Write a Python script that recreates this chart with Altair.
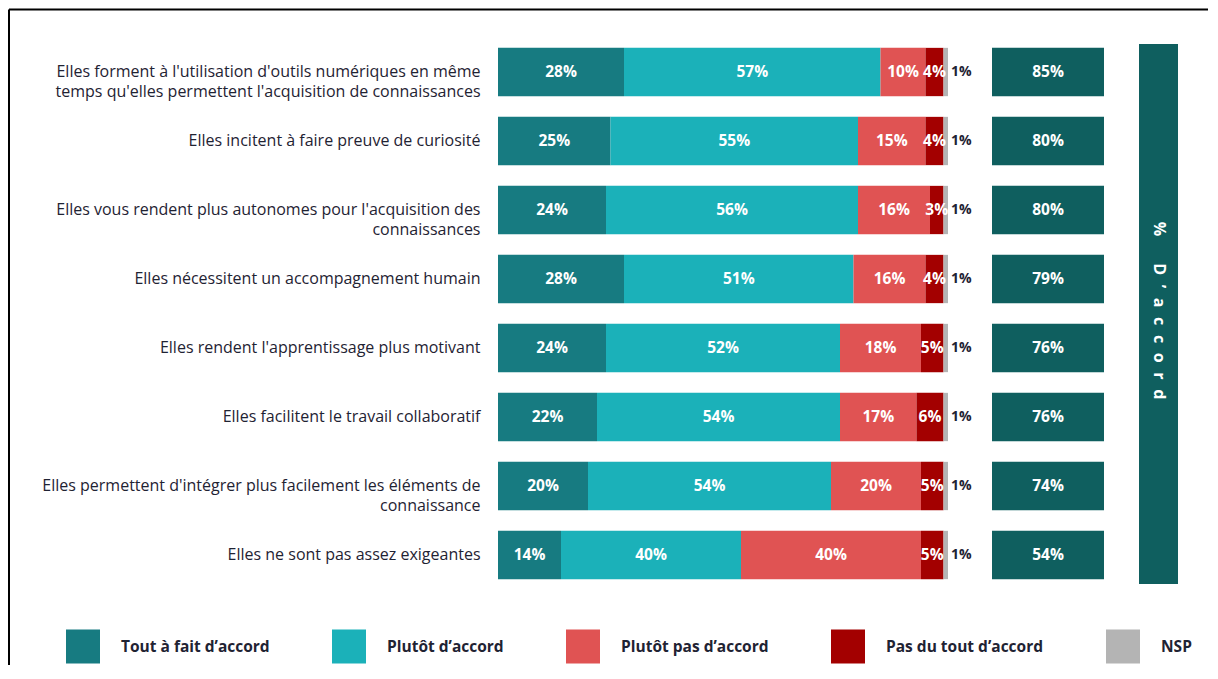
import altair as alt
import pandas as pd

# ---------------- data ----------------
categories = [
    "Elles forment à l'utilisation d'outils numériques en même\ntemps qu'elles permettent l'acquisition de connaissances",
    "Elles incitent à faire preuve de curiosité",
    "Elles vous rendent plus autonomes pour l'acquisition des\nconnaissances",
    "Elles nécessitent un accompagnement humain",
    "Elles rendent l'apprentissage plus motivant",
    "Elles facilitent le travail collaboratif",
    "Elles permettent d'intégrer plus facilement les éléments de\nconnaissance",
    "Elles ne sont pas assez exigeantes",
]
series = ["Tout à fait d’accord", "Plutôt d’accord", "Plutôt pas d’accord", "Pas du tout d’accord", "NSP"]

tout_a_fait = [28, 25, 24, 28, 24, 22, 20, 14]
plutot = [57, 55, 56, 51, 52, 54, 54, 40]
plutot_pas = [10, 15, 16, 16, 18, 17, 20, 40]
pas_du_tout = [4, 4, 3, 4, 5, 6, 5, 5]
nsp = [1, 1, 1, 1, 1, 1, 1, 1]
accord_total = [85, 80, 80, 79, 76, 76, 74, 54]
side_title = "% D’accord"

colors = ["#177b81", "#1bb1b9", "#e05353", "#a30000", "#b4b4b4"]
box_color = "#0f5f5f"
FONT = "Open Sans"
TEXT_DARK = "#1f2333"

# ---------------- tables ----------------
rows = []
for i, cat in enumerate(categories):
    for j, (s, vals) in enumerate(zip(series, [tout_a_fait, plutot, plutot_pas, pas_du_tout, nsp])):
        rows.append({"cat": cat, "serie": s, "order": j, "value": vals[i], "label": f"{vals[i]}%"})
df = pd.DataFrame(rows)
df_acc = pd.DataFrame({"cat": categories, "accord": [f"{v}%" for v in accord_total]})
# letter-spaced rendering of the side title
gap = "\u2002\u200a"
spaced = gap.join(list(side_title.replace(" ", "\u2002")))
df_side = pd.DataFrame({"t": [spaced]})

y_enc = alt.Y(
    "cat:N",
    sort=categories,
    scale=alt.Scale(paddingInner=0.3, paddingOuter=0.15),
    axis=alt.Axis(
        title=None, domain=False, ticks=False, labelPadding=18,
        labelFont=FONT, labelFontSize=16, labelColor=TEXT_DARK,
        labelLimit=0, labelLineHeight=20, labelAlign="right",
        labelExpr="split(datum.label, '\\n')",
    ),
)
x_scale = alt.Scale(domain=[0, 100], nice=False)

base = alt.Chart(df).transform_stack(
    stack="value", groupby=["cat"], sort=[alt.SortField("order")], as_=["x0", "x1"]
).transform_calculate(mid="(datum.x0 + datum.x1) / 2")

bars = base.mark_bar().encode(
    y=y_enc,
    x=alt.X("x0:Q", scale=x_scale, axis=None),
    x2="x1:Q",
    color=alt.Color(
        "serie:N",
        scale=alt.Scale(domain=series, range=colors),
        legend=alt.Legend(
            title=None, orient="none", legendX=-432, legendY=592,
            direction="horizontal", symbolType="square", symbolSize=1156,
            symbolStrokeWidth=0, symbolOpacity=1, labelFont=FONT, labelFontSize=15.5,
            labelFontWeight="bold", labelColor=TEXT_DARK, labelOffset=21,
            labelLimit=0, columnPadding=62, padding=0,
        ),
    ),
)

seg_text = base.transform_filter("datum.serie != 'NSP'").mark_text(
    font=FONT, fontSize=15.5, fontWeight="bold", color="white"
).encode(y=alt.Y("cat:N", sort=categories), x=alt.X("mid:Q", scale=x_scale), text="label:N")

nsp_text = base.transform_filter("datum.serie == 'NSP'").mark_text(
    font=FONT, fontSize=14, fontWeight="bold", color=TEXT_DARK, align="left", dx=3
).encode(y=alt.Y("cat:N", sort=categories), x=alt.X("x1:Q", scale=x_scale), text="label:N")

boxes = alt.Chart(df_acc).mark_rect(color=box_color).encode(
    y=alt.Y("cat:N", sort=categories), x=alt.value(494), x2=alt.value(606)
)
box_text = alt.Chart(df_acc).mark_text(
    font=FONT, fontSize=15.5, fontWeight="bold", color="white"
).encode(y=alt.Y("cat:N", sort=categories), x=alt.value(550), text="accord:N")

side = alt.Chart(df_side).mark_rect(color=box_color).encode(
    x=alt.value(641), x2=alt.value(680), y=alt.value(6.5), y2=alt.value(546.5)
)
side_text = alt.Chart(df_side).mark_text(
    font=FONT, fontSize=16, fontWeight="bold", color="white", angle=90
).encode(x=alt.value(660.5), y=alt.value(273), text="t:N")

frame_left = alt.Chart(df_side).mark_rule(color="black", strokeWidth=2).encode(
    x=alt.value(-489), y=alt.value(-28), y2=alt.value(640)
)
frame_top = alt.Chart(df_side).mark_rule(color="black", strokeWidth=2).encode(
    x=alt.value(-489), x2=alt.value(720), y=alt.value(-28)
)

chart = alt.layer(
    frame_left, frame_top, bars, seg_text, nsp_text, boxes, box_text, side, side_text
).properties(
    width=450, height=552,
    autosize=alt.AutoSizeParams(type="none"),
    padding={"left": 490, "top": 29.5, "right": 260, "bottom": 75},
).configure_view(stroke=None)

chart.save("out.html", embed_options={"renderer": "svg", "actions": False})
